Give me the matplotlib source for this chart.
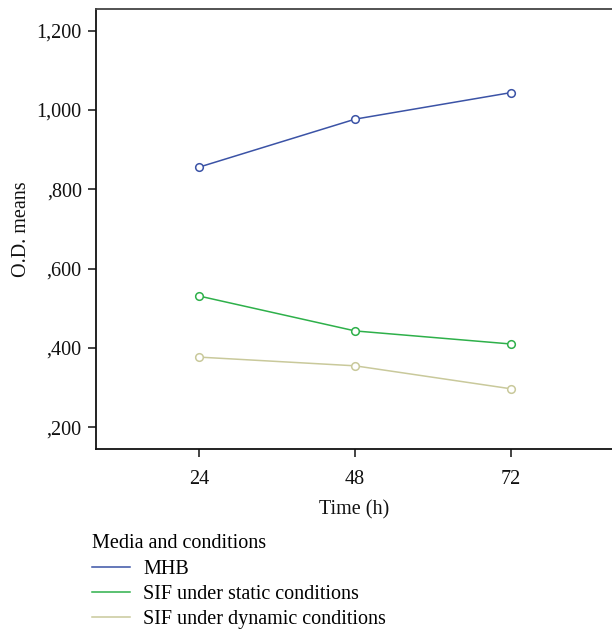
import matplotlib
matplotlib.use("Agg")
import matplotlib.pyplot as plt
from matplotlib.ticker import FuncFormatter

time_h = [24, 48, 72]
series_names = ["MHB", "SIF under static conditions", "SIF under dynamic conditions"]
mhb = [0.856, 0.977, 1.044]
sif_static = [0.531, 0.443, 0.410]
sif_dynamic = [0.377, 0.355, 0.297]
colors = ["#3b53a6", "#2eb04a", "#c9c99b"]
yticks = [0.2, 0.4, 0.6, 0.8, 1.0, 1.2]

plt.rcParams['font.family'] = ['Liberation Serif', 'DejaVu Serif']
FS = 14.5

fig = plt.figure(figsize=(6.12, 6.34), dpi=100)
ax = fig.add_axes([0.1564, 0.2913, 0.8436, 0.6945])

handles = []
for vals, c, name in zip([mhb, sif_static, sif_dynamic], colors, series_names):
    h, = ax.plot(time_h, vals, color=c, lw=1.1, marker='o', ms=5.5,
                 mfc='white', mec=c, mew=1.1, label=name)
    handles.append(h)

ax.set_xlim(8.1, 87.5)
ax.set_ylim(0.1445, 1.2547)
ax.set_xticks(time_h)
ax.set_yticks(yticks)

def fmt(v, pos):
    s = "{:.3f}".format(v)
    ip, dp = s.split('.')
    if ip == '0':
        return ',' + dp
    return ip + ',' + dp
ax.yaxis.set_major_formatter(FuncFormatter(fmt))

for s in ['left', 'bottom']:
    ax.spines[s].set_linewidth(1.3)
    ax.spines[s].set_color('#111111')
ax.spines['top'].set_linewidth(1.3)
ax.spines['top'].set_color('#444444')
ax.spines['right'].set_visible(False)
ax.tick_params(axis='both', direction='out', length=6, width=1.1,
               labelsize=FS, colors='#111111')
ax.tick_params(axis='y', pad=4)
ax.tick_params(axis='x', pad=9)

ax.set_xlabel("Time (h)", fontsize=FS, labelpad=8, color='#111111')
ax.set_ylabel("O.D. means", fontsize=FS, labelpad=4, color='#111111')

leg = fig.legend(handles=[plt.Line2D([], [], color=c, lw=1.1) for c in colors],
                 labels=series_names, loc='upper left',
                 bbox_to_anchor=(0.150, 0.157), frameon=False,
                 title="Media and conditions", alignment='left',
                 fontsize=FS, title_fontsize=FS,
                 handlelength=1.9, handletextpad=0.65, labelspacing=0.3,
                 borderpad=0, borderaxespad=0)

fig.savefig("out.png", dpi=100)
